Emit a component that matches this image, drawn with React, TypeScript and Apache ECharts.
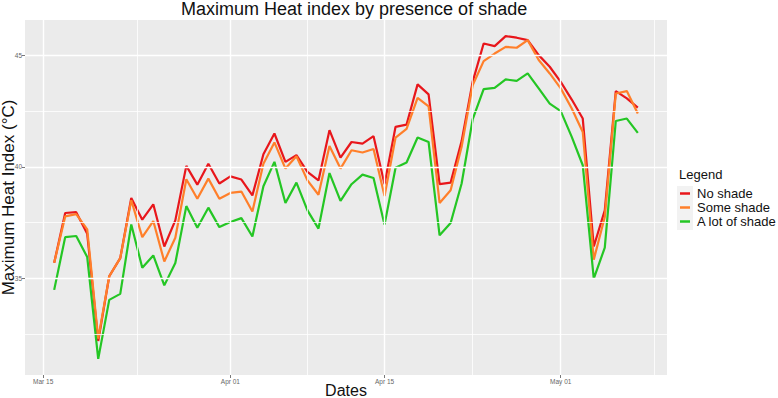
import { useEffect, useRef } from "react";
import * as echarts from "echarts";

// Daily maximum heat index (°C), one value per day starting 16 March
const firstDate = "2021-03-16";
const seriesNames = ["No shade", "Some shade", "A lot of shade"];
const seriesColors = ["#E8161B", "#FF7F2A", "#24C624"];

const noShade = [
  35.7, 37.93, 37.97, 37.0, 32.2, 35.1, 35.91, 38.6, 37.63, 38.32,
  36.43, 37.6, 40.04, 39.2, 40.14, 39.25, 39.57, 39.43, 38.72, 40.56,
  41.49, 40.22, 40.52, 39.77, 39.39, 41.64, 40.41, 41.11, 41.04, 41.37,
  39.22, 41.79, 41.89, 43.69, 43.24, 39.22, 39.29, 41.15, 43.8, 45.52,
  45.4, 45.85, 45.78, 45.67, 45.0, 44.48, 43.8, 43.01, 42.16, 36.43,
  38.05, 43.39, 43.06, 42.65,
];
const someShade = [
  35.7, 37.78, 37.88, 37.2, 32.3, 35.1, 35.91, 38.5, 36.85, 37.57,
  35.76, 36.82, 39.44, 38.57, 39.47, 38.57, 38.83, 38.89, 38.0, 40.14,
  41.09, 39.92, 40.47, 39.39, 38.75, 40.93, 39.92, 40.74, 40.64, 40.8,
  38.69, 41.31, 41.7, 43.09, 42.71, 38.38, 38.95, 40.9, 43.65, 44.73,
  45.07, 45.37, 45.33, 45.67, 44.78, 44.18, 43.51, 42.61, 41.56, 35.84,
  37.75, 43.28, 43.39, 42.39,
];
const lotOfShade = [
  34.49, 36.85, 36.9, 35.96, 31.4, 34.04, 34.31, 37.42, 35.48, 36.03,
  34.69, 35.69, 38.24, 37.27, 38.17, 37.3, 37.53, 37.7, 36.88, 39.13,
  40.22, 38.38, 39.29, 38.05, 37.23, 39.72, 38.47, 39.22, 39.65, 39.5,
  37.41, 39.96, 40.19, 41.31, 41.11, 36.93, 37.48, 39.25, 42.12, 43.48,
  43.53, 43.91, 43.85, 44.18, 43.51, 42.83, 42.49, 41.34, 40.07, 34.99,
  36.38, 42.05, 42.16, 41.52,
];

const xTickDates = ["2021-03-15", "2021-04-01", "2021-04-15", "2021-05-01"];
const xTickLabels = ["Mar 15", "Apr 01", "Apr 15", "May 01"];
const yTicks = [35, 40, 45];
const yMinorTicks = [32.5, 37.5, 42.5];

const DAY = 86400000;
const FONT = "'Liberation Sans', Arial, Helvetica, sans-serif";

const toTime = (s: string) => Date.parse(s + "T00:00:00Z");

export default function App() {
  const ref = useRef<HTMLDivElement>(null);

  useEffect(() => {
    if (!ref.current) return;
    const chart = echarts.init(ref.current, undefined, { renderer: "svg" });

    const start = toTime(firstDate);
    const times = noShade.map((_, i) => start + i * DAY);
    const allSeries = [noShade, someShade, lotOfShade];

    // ranges padded by 5% of the data span on each side
    const tMin = times[0];
    const tMax = times[times.length - 1];
    const tPad = (tMax - tMin) * 0.05;
    const allValues = allSeries.flat();
    const vMin = Math.min(...allValues);
    const vMax = Math.max(...allValues);
    const vPad = (vMax - vMin) * 0.05;

    const xTicks = xTickDates.map(toTime);
    const step = xTicks[1] - xTicks[0];
    const extended = [...xTicks, xTicks[xTicks.length - 1] + step];
    const xMinor = extended.slice(1).map((t, i) => (t + extended[i]) / 2);

    const majorStyle = { color: "#ffffff", width: 1.4, type: "solid" as const };
    const minorStyle = { color: "#ffffff", width: 0.8, type: "solid" as const };

    const gridLines = [
      ...xTicks.map((t) => ({ xAxis: t, lineStyle: majorStyle })),
      ...xMinor.map((t) => ({ xAxis: t, lineStyle: minorStyle })),
      ...yTicks.map((v) => ({ yAxis: v, lineStyle: majorStyle })),
      ...yMinorTicks.map((v) => ({ yAxis: v, lineStyle: minorStyle })),
    ];

    const labelFor = (v: number) => {
      const idx = xTicks.indexOf(v);
      return idx >= 0 ? xTickLabels[idx] : "";
    };

    chart.setOption({
      animation: false,
      backgroundColor: "#ffffff",
      textStyle: { fontFamily: FONT },
      title: {
        text: "Maximum Heat index by presence of shade",
        left: 181,
        top: 0,
        padding: 0,
        textStyle: { fontSize: 18, fontWeight: "normal", color: "#111", fontFamily: FONT },
      },
      grid: {
        left: 25,
        right: 111,
        top: 20,
        bottom: 23,
        containLabel: false,
        outerBoundsMode: "none",
        show: true,
        backgroundColor: "#EBEBEB",
        borderWidth: 0,
      },
      legend: {
        orient: "vertical",
        left: 680,
        top: 187,
        padding: 0,
        itemGap: 1,
        itemWidth: 10,
        itemHeight: 2.5,
        icon: "rect",
        data: seriesNames,
        textStyle: { fontSize: 13, color: "#111", fontFamily: FONT, padding: [0, 0, 0, 2] },
      },
      graphic: [
        {
          type: "rect",
          left: 677,
          top: 186,
          shape: { width: 16, height: 44 },
          style: { fill: "#F2F2F2" },
          z: -1,
        },
        {
          type: "text",
          left: 679,
          top: 168,
          style: { text: "Legend", fontSize: 13, fill: "#111", fontFamily: FONT },
        },
      ],
      xAxis: {
        type: "value",
        min: tMin - tPad,
        max: tMax + tPad,
        name: "Dates",
        nameLocation: "middle",
        nameGap: 7,
        nameMoveOverlap: false,
        nameTextStyle: { fontSize: 16, color: "#111", fontFamily: FONT },
        axisLine: { show: false },
        splitLine: { show: false },
        axisTick: {
          show: true,
          length: 3,
          lineStyle: { color: "#555", width: 0.8 },
          customValues: xTicks,
        },
        axisLabel: {
          customValues: xTicks,
          formatter: labelFor,
          fontSize: 6.5,
          color: "#666",
          margin: 3,
        },
      },
      yAxis: {
        type: "value",
        min: vMin - vPad,
        max: vMax + vPad,
        name: "Maximum Heat Index (°C)",
        nameLocation: "middle",
        nameRotate: 90,
        nameGap: 8,
        nameMoveOverlap: false,
        nameTextStyle: { fontSize: 17, color: "#111", fontFamily: FONT },
        axisLine: { show: false },
        splitLine: { show: false },
        axisTick: {
          show: true,
          length: 3,
          lineStyle: { color: "#555", width: 0.8 },
          customValues: yTicks,
        },
        axisLabel: {
          customValues: yTicks,
          fontSize: 6.5,
          color: "#666",
          margin: 3,
        },
      },
      series: [
        {
          type: "line",
          name: "__grid",
          data: [],
          silent: true,
          z: 1,
          markLine: {
            silent: true,
            symbol: "none",
            label: { show: false },
            animation: false,
            data: gridLines,
          },
        },
        ...allSeries.map((vals, k) => ({
          type: "line",
          name: seriesNames[k],
          data: vals.map((v, i) => [times[i], v]),
          showSymbol: false,
          symbol: "none",
          z: 3,
          color: seriesColors[k],
          lineStyle: { color: seriesColors[k], width: 2.2 },
        })),
      ],
    });

    return () => chart.dispose();
  }, []);

  return (
    <div
      ref={ref}
      style={{ position: "fixed", left: 0, top: 0, width: 778, height: 398 }}
    />
  );
}
